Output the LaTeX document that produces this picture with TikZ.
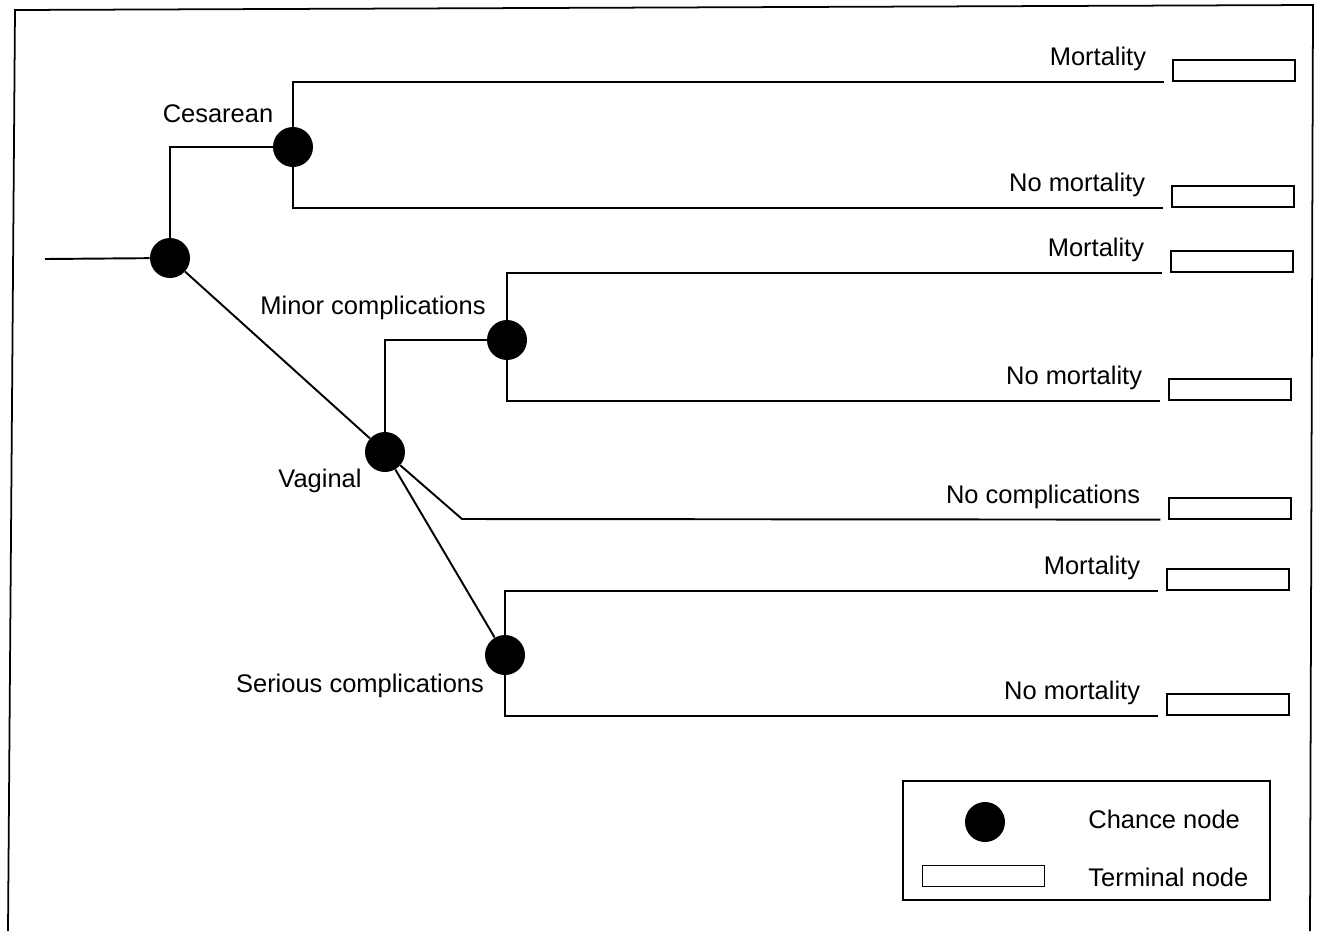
\documentclass[tikz,border=0pt]{standalone}
\usepackage{fontspec}
\setmainfont{Liberation Sans}
\usetikzlibrary{calc,positioning}

\tikzset{
  chance/.style={circle, fill=black, minimum size=0.8cm, inner sep=0pt},
  terminal/.style={rectangle, draw, line width=0.7pt, minimum width=2.44cm, minimum height=0.42cm, inner sep=0pt},
  branch/.style={line width=1.1pt},
  brlabel/.style={anchor=base east, inner sep=0pt, font=\fontsize{14.5}{17}\selectfont},
  lbl/.style={inner sep=0pt, font=\fontsize{14.5}{17}\selectfont},
}

\begin{document}
\begin{tikzpicture}[x=0.02cm, y=-0.02cm]
    \useasboundingbox (0,0) rectangle (1319,931);

    % Frame (open at the bottom)
    \draw[line width=1pt] (8,931) -- (15,10) -- (1313,5) -- (1310,931);

    % Chance nodes
    \node[chance] (root)    at (170,258) {};
    \node[chance] (ces)     at (293,147) {};
    \node[chance] (vag)     at (385,452) {};
    \node[chance] (minor)   at (507,340) {};
    \node[chance] (serious) at (505,655) {};

    % Terminal nodes
    \node[terminal] (t1) at (1234,70.5) {};
    \node[terminal] (t2) at (1233,196.5) {};
    \node[terminal] (t3) at (1232,261.5) {};
    \node[terminal] (t4) at (1230,389.5) {};
    \node[terminal] (t5) at (1230,508.5) {};
    \node[terminal] (t6) at (1228,579.5) {};
    \node[terminal] (t7) at (1228,704.5) {};

    % Root and first split
    \coordinate (start) at (45,259);
    \draw[branch] (start) -- (root);
    \draw[branch] (root) |- (ces);
    \draw[branch] (root) -- (vag);
    \node[lbl] (lces) at (218,114) {Cesarean};
    \node[lbl] (lvag) at (320,481) {Vaginal};

    % Cesarean outcomes
    \draw[branch] (ces) |- ($(t1.south west)+(-8,0)$) coordinate (e1);
    \draw[branch] (ces) |- ($(t2.south west)+(-8,0)$) coordinate (e2);
    \node[brlabel] (l1) at ($(e1)+(-18,-16)$) {Mortality};
    \node[brlabel] (l2) at ($(e2)+(-18,-16)$) {No mortality};

    % Vaginal: minor complications
    \draw[branch] (vag) |- (minor);
    \node[lbl] (lminor) at (373,308) {Minor complications};
    \draw[branch] (minor) |- ($(t3.south west)+(-8,0)$) coordinate (e3);
    \draw[branch] (minor) |- ($(t4.south west)+(-8,0)$) coordinate (e4);
    \node[brlabel] (l3) at ($(e3)+(-18,-16)$) {Mortality};
    \node[brlabel] (l4) at ($(e4)+(-18,-16)$) {No mortality};

    % Vaginal: no complications
    \coordinate (nc) at (462,519);
    \draw[branch] (vag) -- (nc) -- ($(t5.south west)+(-8,0)$) coordinate (e5);
    \node[brlabel] (l5) at ($(e5)+(-20,-16)$) {No complications};

    % Vaginal: serious complications
    \draw[branch] (vag) -- (serious);
    \node[lbl] (lser) at (360,686) {Serious complications};
    \draw[branch] (serious) |- ($(t6.south west)+(-8,0)$) coordinate (e6);
    \draw[branch] (serious) |- ($(t7.south west)+(-8,0)$) coordinate (e7);
    \node[brlabel] (l6) at ($(e6)+(-18,-16)$) {Mortality};
    \node[brlabel] (l7) at ($(e7)+(-18,-16)$) {No mortality};

    % Legend
    \node[draw, line width=0.8pt, minimum width=7.34cm, minimum height=2.38cm, inner sep=0pt] (legend) at (1086.5,840.5) {};
    \node[chance] (lchance) at (985,822) {};
    \node[terminal] (lterm) at (983.5,876) {};
    \node[lbl, anchor=west] (lcn) at (1088,819) {Chance node};
    \node[lbl, anchor=west] (ltn) at (1088,877) {Terminal node};

\end{tikzpicture}
\end{document}
